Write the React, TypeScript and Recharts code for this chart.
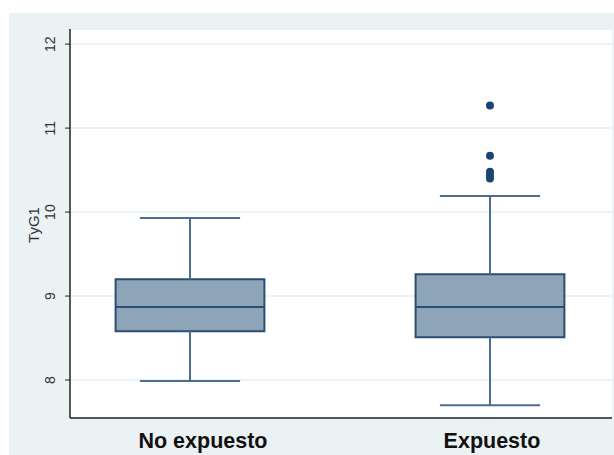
import React from "react";
import {
  ComposedChart,
  XAxis,
  YAxis,
  CartesianGrid,
  ReferenceArea,
  ReferenceLine,
  Scatter,
} from "recharts";

// values
const groups = ["No expuesto", "Expuesto"];
const groupPos = [1, 2];
const whiskerLow = [7.99, 7.7];
const q1 = [8.58, 8.51];
const median = [8.87, 8.87];
const q3 = [9.2, 9.26];
const whiskerHigh = [9.93, 10.19];
const outliersExpuesto = [11.27, 10.67, 10.48, 10.44, 10.4];
const yTicks = [8, 9, 10, 11, 12];

const outlierData = outliersExpuesto.map((v) => ({ x: groupPos[1], y: v }));

const BOX_HALF = 0.248;
const CAP_HALF = 0.167;
const FILL = "#8ea5b9";
const EDGE = "#2c4e71";
const WHISK = "#4d6d8d";
const FONT = "Liberation Sans, Arial, sans-serif";
const labelShift = [13, 2];

const YTick = (props: any) => {
  const { x, y, payload } = props;
  const tx = x - 8;
  return (
    <text
      x={tx}
      y={y}
      transform={`rotate(-90, ${tx}, ${y})`}
      textAnchor="middle"
      fontSize={14}
      fontFamily={FONT}
      fill="#333"
    >
      {payload.value}
    </text>
  );
};

const XTick = (props: any) => {
  const { x, y, payload } = props;
  const i = groupPos.indexOf(payload.value);
  return (
    <text
      x={x + labelShift[i]}
      y={y + 22}
      textAnchor="middle"
      fontSize={21.5}
      fontWeight="bold"
      fontFamily={FONT}
      fill="#111"
    >
      {groups[i]}
    </text>
  );
};

const YTitle = () => (
  <text
    x={39}
    y={225}
    transform="rotate(-90, 39, 225)"
    textAnchor="middle"
    fontSize={15}
    fontFamily={FONT}
    fill="#333"
  >
    TyG1
  </text>
);

export default function App() {
  return (
    <div style={{ position: "absolute", left: 0, top: 0, width: 614, height: 455, background: "#fff" }}>
      <div
        style={{ position: "absolute", left: 9, top: 13, width: 605, height: 442, background: "#eaf2f3" }}
      />
      <div style={{ position: "absolute", left: 0, top: 0 }}>
        <ComposedChart
          width={614}
          height={455}
          margin={{ top: 29, right: 2, bottom: 0, left: 20 }}
        >
          <CartesianGrid
            horizontal
            vertical={false}
            fill="#ffffff"
            stroke="#e6eff2"
            strokeWidth={1.5}
          />
          <XAxis
            type="number"
            dataKey="x"
            domain={[0.6, 2.4067]}
            ticks={groupPos}
            tick={<XTick />}
            tickLine={false}
            axisLine={{ stroke: "#222", strokeWidth: 1.5 }}
            height={37}
            allowDataOverflow
          />
          <YAxis
            type="number"
            dataKey="y"
            domain={[7.548, 12.18]}
            ticks={yTicks}
            tick={<YTick />}
            tickSize={5}
            tickLine={{ stroke: "#222" }}
            axisLine={{ stroke: "#222", strokeWidth: 1.5 }}
            width={50}
            allowDataOverflow
            label={{ content: () => <YTitle /> }}
          />
          {groupPos.map((p, i) => (
            <ReferenceLine
              key={`wl-${i}`}
              segment={[{ x: p, y: whiskerLow[i] }, { x: p, y: q1[i] }]}
              stroke={WHISK}
              strokeWidth={2}
            />
          ))}
          {groupPos.map((p, i) => (
            <ReferenceLine
              key={`wh-${i}`}
              segment={[{ x: p, y: q3[i] }, { x: p, y: whiskerHigh[i] }]}
              stroke={WHISK}
              strokeWidth={2}
            />
          ))}
          {groupPos.map((p, i) => (
            <ReferenceLine
              key={`cl-${i}`}
              segment={[{ x: p - CAP_HALF, y: whiskerLow[i] }, { x: p + CAP_HALF, y: whiskerLow[i] }]}
              stroke={WHISK}
              strokeWidth={2}
            />
          ))}
          {groupPos.map((p, i) => (
            <ReferenceLine
              key={`ch-${i}`}
              segment={[{ x: p - CAP_HALF, y: whiskerHigh[i] }, { x: p + CAP_HALF, y: whiskerHigh[i] }]}
              stroke={WHISK}
              strokeWidth={2}
            />
          ))}
          {groupPos.map((p, i) => (
            <ReferenceArea
              key={`box-${i}`}
              x1={p - BOX_HALF}
              x2={p + BOX_HALF}
              y1={q1[i]}
              y2={q3[i]}
              fill={FILL}
              fillOpacity={1}
              stroke={EDGE}
              strokeWidth={2}
            />
          ))}
          {groupPos.map((p, i) => (
            <ReferenceLine
              key={`med-${i}`}
              segment={[{ x: p - BOX_HALF, y: median[i] }, { x: p + BOX_HALF, y: median[i] }]}
              stroke={EDGE}
              strokeWidth={2}
            />
          ))}
          <Scatter
            data={outlierData}
            fill="#1a476f"
            isAnimationActive={false}
            shape={(p: any) => <circle cx={p.cx} cy={p.cy} r={4} fill="#1a476f" />}
          />
        </ComposedChart>
      </div>
    </div>
  );
}
